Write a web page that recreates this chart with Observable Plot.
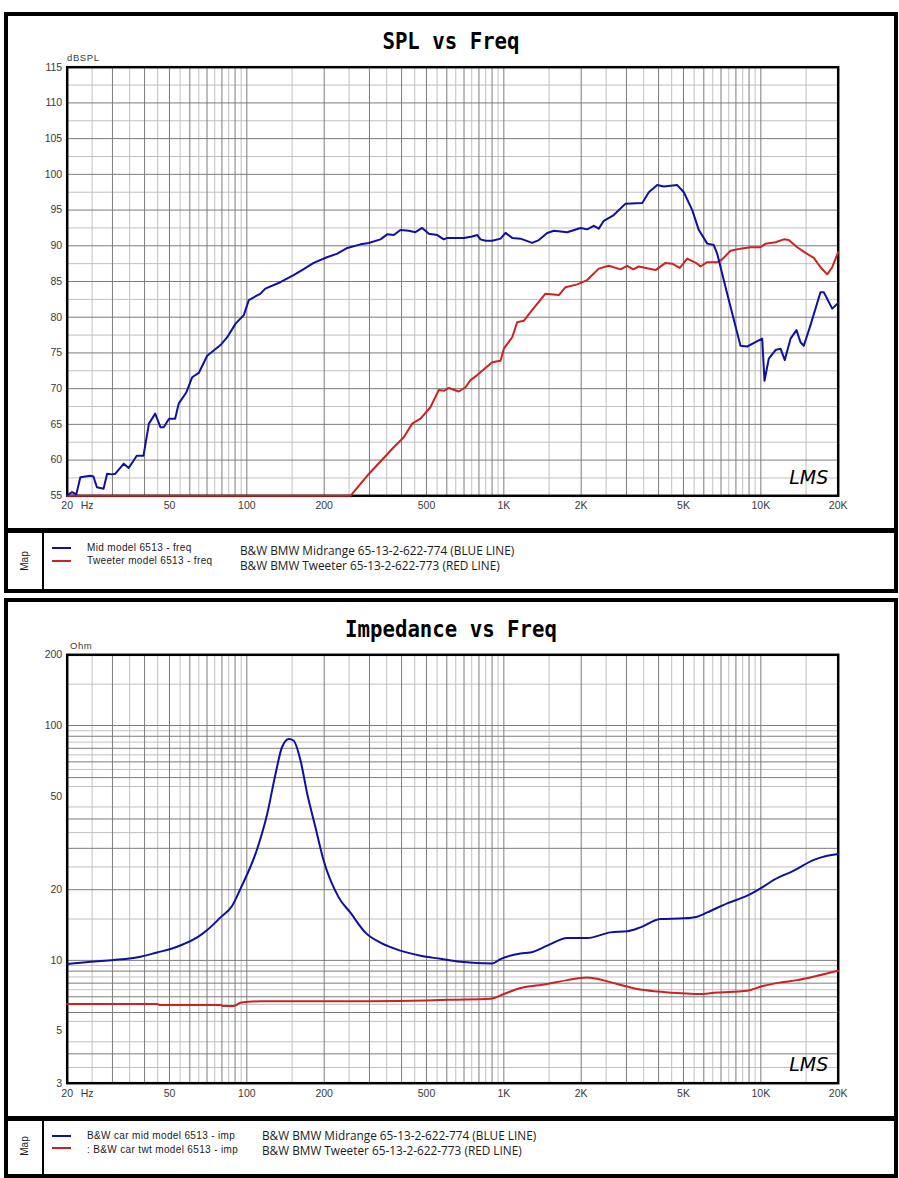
<!DOCTYPE html>
<html><head><meta charset="utf-8">
<script src="https://cdn.jsdelivr.net/npm/d3@7"></script>
<script src="https://cdn.jsdelivr.net/npm/@observablehq/plot@0.6"></script>
<style>
html,body{margin:0;padding:0;background:#fff;overflow:hidden;width:899px;height:1178px;}
#page{position:relative;width:899px;height:1178px;}
.box{position:absolute;box-sizing:border-box;border:4px solid #000;}
.bar{position:absolute;background:#000;}
.title{position:absolute;left:0;width:902px;text-align:center;font-family:"DejaVu Sans Mono","Liberation Mono",monospace;font-weight:bold;font-size:23px;line-height:1;color:#000;transform:translateY(-50%) scaleX(0.9);}
.map{position:absolute;font-family:"Liberation Sans",Arial,sans-serif;font-size:10px;line-height:1;transform:translate(-50%,-50%) rotate(-90deg);color:#222;}
.sw{position:absolute;height:2px;width:19px;}
.lt{position:absolute;font-family:"Liberation Sans",Arial,sans-serif;font-size:10px;line-height:1;transform:translateY(-50%);white-space:nowrap;color:#222;letter-spacing:0.35px;}
.rt{position:absolute;font-family:"Open Sans",sans-serif;font-size:11.8px;line-height:1;transform:translateY(-50%);white-space:nowrap;color:#1a1a1a;}
.unit{position:absolute;font-family:"Liberation Sans",Arial,sans-serif;font-size:9.5px;line-height:1;transform:translateY(-50%);white-space:nowrap;color:#3a3a3a;letter-spacing:0.6px;}
.plot{position:absolute;left:0;}
</style></head><body><div id="page">
<div class="box" style="left:4px;top:12px;width:894px;height:581px;"></div>
<div class="bar" style="left:4px;top:528px;width:894px;height:5px;"></div>
<div class="bar" style="left:42px;top:531px;width:2px;height:60px;"></div>
<div class="title" style="top:41px;">SPL vs Freq</div>
<div class="unit" style="left:67px;top:58px;">dBSPL</div>
<div class="map" style="left:25px;top:561px;">Map</div>
<div class="sw" style="left:52px;top:547px;background:#1010a0;"></div>
<div class="sw" style="left:52px;top:560px;background:#cc2222;"></div>
<div class="lt" style="left:87px;top:548px;">Mid model 6513 - freq</div>
<div class="lt" style="left:87px;top:561px;">Tweeter model 6513 - freq</div>
<div class="rt" style="left:240px;top:551px;">B&amp;W BMW Midrange 65-13-2-622-774 (BLUE LINE)</div>
<div class="rt" style="left:240px;top:566px;">B&amp;W BMW Tweeter 65-13-2-622-773 (RED LINE)</div>

<div class="box" style="left:4px;top:598px;width:894px;height:580px;"></div>
<div class="bar" style="left:4px;top:1116px;width:894px;height:5px;"></div>
<div class="bar" style="left:42px;top:1119px;width:2px;height:57px;"></div>
<div class="title" style="top:629px;">Impedance vs Freq</div>
<div class="unit" style="left:70px;top:646px;">Ohm</div>
<div class="map" style="left:25px;top:1146px;">Map</div>
<div class="sw" style="left:52px;top:1135px;background:#1010a0;"></div>
<div class="sw" style="left:52px;top:1147px;background:#cc2222;"></div>
<div class="lt" style="left:87px;top:1136px;">B&amp;W car mid model 6513 - imp</div>
<div class="lt" style="left:87px;top:1150px;">: B&amp;W car twt model 6513 - imp</div>
<div class="rt" style="left:262px;top:1136px;">B&amp;W BMW Midrange 65-13-2-622-774 (BLUE LINE)</div>
<div class="rt" style="left:262px;top:1151px;">B&amp;W BMW Tweeter 65-13-2-622-773 (RED LINE)</div>
<div id="p1" class="plot" style="top:0px;"></div>
<div id="p2" class="plot" style="top:600px;"></div>
</div>
<script>
// ---- tick / grid values ----
const freqTicks = [20, 50, 100, 200, 500, 1000, 2000, 5000, 10000, 20000];
const freqTickLabels = ["20", "50", "100", "200", "500", "1K", "2K", "5K", "10K", "20K"];
const freqGridMajor = [20,30,40,50,60,70,80,90,100,200,300,400,500,600,700,800,900,1000,2000,3000,4000,5000,6000,7000,8000,9000,10000,20000];
const freqGridMinor = [25,35,45,55,65,75,85,95,150,250,350,450,550,650,750,850,950,1500,2500,3500,4500,5500,6500,7500,8500,9500,15000];
const splTicks = [55,60,65,70,75,80,85,90,95,100,105,110,115];
const splGridMinor = [57.5,62.5,67.5,72.5,77.5,82.5,87.5,92.5,97.5,102.5,107.5,112.5];
const impTicks = [3,5,10,20,50,100,200];
const impGridMajor = [4,6,7,8,9,10,20,30,40,60,70,80,90,100];
const impGridMinor = [3.5,4.5,5.5,6.5,7.5,8.5,9.5,15,25,35,45,55,65,75,85,95,150];

// ---- SPL: midrange (blue) ----
const midSplFreq = [20,20.9,21.7,22.5,24.6,25.3,26.1,27.7,28.6,29.9,30.8,33.2,34.7,37.3,39.6,41.6,44.0,46.1,47.5,49.8,52.6,54.3,58.2,61.3,65.0,70.1,79.0,83.9,90.4,97.3,101.8,113,118,135,152,164,182,205,225,246,277,298,331,352,373,396,427,453,481,511,551,584,602,659,699,753,788,811,848,901,971,1015,1078,1161,1289,1368,1475,1565,1764,1988,2110,2239,2342,2449,2678,2975,3456,3666,3952,4193,4728,5017,5408,5738,6187,6561,6764,7398,8334,8848,9533,10122,10334,10740,11404,11928,12396,13046,13766,14268,14696,15604,17066,17579,18956,20000];
const midSplDb = [55.1,55.5,55.2,57.6,57.8,57.7,56.2,56.0,58.1,58.0,58.1,59.5,58.9,60.6,60.6,65.1,66.5,64.6,64.6,65.8,65.8,67.9,69.5,71.6,72.2,74.6,76.1,77.2,79.1,80.3,82.4,83.3,84.0,84.9,85.9,86.6,87.6,88.4,88.9,89.7,90.2,90.4,90.9,91.6,91.5,92.2,92.1,91.9,92.5,91.7,91.5,90.9,91.1,91.1,91.1,91.3,91.5,90.9,90.7,90.7,91.0,91.8,91.1,91.0,90.4,90.8,91.8,92.1,91.9,92.5,92.3,92.8,92.4,93.5,94.3,95.9,96.0,97.5,98.5,98.3,98.5,97.5,95.0,92.2,90.3,90.1,88.9,83.3,76.0,75.9,76.5,77.0,71.1,74.2,75.4,75.6,74.0,77.0,78.2,76.5,76.0,78.9,83.5,83.5,81.2,82.0];

// ---- SPL: tweeter (red) ----
const twtSplFreq = [20,253,294,373,408,440,474,518,558,584,611,668,709,742,788,848,901,971,1000,1078,1127,1196,1270,1452,1637,1738,1930,2110,2342,2562,2844,3020,3188,3350,3892,4256,4520,4839,5170,5656,5823,6187,6764,7074,7620,8334,9115,9971,10428,11404,12284,12846,13852,14926,16078,17066,18126,18956,20000];
const twtSplDb = [55,55,57.8,61.8,63.2,65.1,65.8,67.4,69.8,69.7,70.1,69.6,70.2,71.2,71.9,72.9,73.7,73.9,75.6,77.2,79.3,79.5,80.7,83.3,83.1,84.2,84.6,85.2,86.8,87.2,86.7,87.2,86.7,87.1,86.6,87.6,87.5,86.9,88.2,87.5,87.1,87.7,87.7,88.1,89.3,89.6,89.8,89.8,90.3,90.5,90.9,90.8,89.8,89.0,88.3,87.0,86.0,87.0,89.1];

// ---- Impedance: midrange (blue) ----
const midImpFreq = [20,24.6,30.3,38.6,44.8,50.5,56.9,64.1,70.1,79.0,87.7,94.5,109.7,120,129.3,137,145.7,152,161.8,171.8,185,199,228,253,290,331,396,474,567,678,901,971,1161,1270,1475,1764,2110,2601,3020,3402,4068,5017,5656,6187,7398,8848,10122,11232,13436,16078,18126,20000];
const midImpOhm = [9.65,9.87,10.04,10.37,10.81,11.18,11.74,12.52,13.47,15.24,17.09,20.2,29.8,42,62.2,80.8,87.7,86.3,70.9,51.2,36.8,26.6,18.5,15.96,13.1,11.9,11.0,10.47,10.16,9.87,9.7,10.13,10.7,10.8,11.55,12.45,12.45,13.16,13.3,13.82,15.0,15.1,15.35,16.0,17.49,18.85,20.45,22.0,24.1,26.8,27.9,28.4];

// ---- Impedance: tweeter (red) ----
const twtImpFreq = [20,44.8,46,79.5,80.5,89,94.5,101.5,113,300,500,620,887,1000,1127,1475,1764,2110,2239,2761,3304,3952,4728,5656,6764,8848,10268,11928,13852,16570,20000];
const twtImpOhm = [6.52,6.52,6.45,6.45,6.4,6.4,6.6,6.66,6.7,6.7,6.75,6.8,6.87,7.19,7.55,7.93,8.24,8.46,8.4,7.93,7.55,7.37,7.26,7.19,7.3,7.43,7.8,8.05,8.24,8.6,9.04];

const zip = (xs, ys) => xs.map((x, i) => ({x, y: ys[i]}));
const midSpl = zip(midSplFreq, midSplDb);
const twtSpl = zip(twtSplFreq, twtSplDb);
const midImp = zip(midImpFreq, midImpOhm);
const twtImp = zip(twtImpFreq, twtImpOhm);

const BLUE = "#1010a0", RED = "#cc2222";
const GRID_DARK = "#7c7c7c", GRID_LIGHT = "#c0c0c0";
const LABEL = "#3a3a3a";
const style = {background: "transparent", fontFamily: "'Liberation Sans', Arial, sans-serif", fontSize: "10.5px", color: LABEL, overflow: "visible"};

function common(yMajor, yMinor, yTicks, curve, series) {
  return [
    Plot.ruleX(freqGridMinor, {stroke: GRID_LIGHT, strokeWidth: 1}),
    Plot.ruleY(yMinor, {stroke: GRID_LIGHT, strokeWidth: 1}),
    Plot.ruleX(freqGridMajor, {stroke: GRID_DARK, strokeWidth: 1}),
    Plot.ruleY(yMajor, {stroke: GRID_DARK, strokeWidth: 1}),
    Plot.frame({stroke: "#000", strokeWidth: 2.5}),
    // x tick labels
    Plot.text(freqTicks, {x: d => d, frameAnchor: "bottom", lineAnchor: "middle", dy: 10, text: (d, i) => freqTickLabels[i], fill: LABEL, fontSize: 10.5}),
    Plot.text(["Hz"], {x: () => 20, frameAnchor: "bottom", lineAnchor: "middle", dx: 20, dy: 10, text: d => d, fill: LABEL, fontSize: 10.5}),
    // y tick labels
    Plot.axisY({ticks: yTicks, tickSize: 0, tickPadding: 5, label: null}),
    Plot.text(["LMS"], {frameAnchor: "bottom-right", textAnchor: "end", lineAnchor: "middle", dx: -10, dy: -18, text: d => d, fill: "#000", fontSize: 19, fontStyle: "italic", fontFamily: "'DejaVu Sans', sans-serif"}),
    ...series.map(s => Plot.line(s.data, {x: "x", y: "y", stroke: s.color, strokeWidth: 2, curve}))
  ];
}

const p1 = Plot.plot({
  width: 899, height: 520,
  marginLeft: 66.7, marginRight: 61.3, marginTop: 66.7, marginBottom: 24.7,
  x: {type: "log", domain: [20, 20000], axis: null},
  y: {domain: [55, 115]},
  style,
  marks: common(splTicks, splGridMinor, splTicks, "linear",
    [{data: twtSpl, color: RED}, {data: midSpl, color: BLUE}])
});
document.getElementById("p1").appendChild(p1);

const p2 = Plot.plot({
  width: 899, height: 510,
  marginLeft: 66.7, marginRight: 61.3, marginTop: 54.3, marginBottom: 27.3,
  x: {type: "log", domain: [20, 20000], axis: null},
  y: {type: "log", domain: [3, 200]},
  style,
  marks: common(impGridMajor, impGridMinor, impTicks, "monotone-x",
    [{data: twtImp, color: RED}, {data: midImp, color: BLUE}])
});
document.getElementById("p2").appendChild(p2);
</script>
</body></html>
